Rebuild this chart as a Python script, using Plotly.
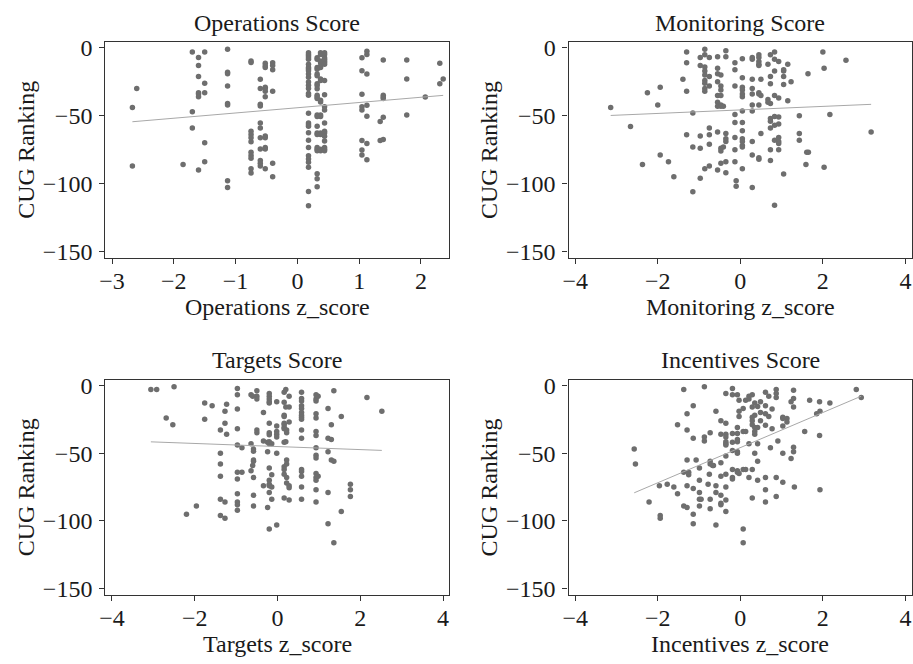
import numpy as np
import plotly.graph_objects as go

FONT = "Liberation Serif, Times New Roman, serif"

# ---------------- data ----------------
ops_x = ([-2.67, -2.67, -2.6, -1.85, -1.7, -1.7, -1.7]
         + [-1.6] * 7 + [-1.5] * 5 + [-1.13] * 8 + [-0.75] * 11 + [-0.6] * 11
         + [-0.52] * 12 + [-0.4] * 6 + [0.18] * 29 + [0.32] * 23 + [0.375] * 16
         + [0.44] * 19 + [1.045] * 8 + [1.125] * 7 + [1.34] * 2 + [1.39] * 6
         + [1.77] * 3 + [2.07, 2.305, 2.305, 2.36])
ops_y = ([-44, -87, -30, -86, -3, -47, -59,
          -7, -13, -21, -33, -34, -36, -90,
          -3, -26, -33, -70, -84,
          -1, -18, -19, -28, -41, -42, -98, -103,
          -9.6, -10.8, -61.4, -63.8, -66.2, -69.1, -77, -79.4, -81.4, -89, -92.2,
          -23, -30, -41.6, -42.8, -55.4, -59, -66.2, -74.6, -83, -85, -87,
          -11.3, -13.2, -14.4, -28.9, -30, -32, -36, -65, -66.2, -73.4, -74.6, -89,
          -11, -13, -16, -32, -85, -95,
          -3.6, -4.8, -6, -7.2, -8.4, -12, -14.4, -15.6, -16.8, -19.2, -21.6, -25.2,
          -27.6, -30, -33.6, -34.8, -48.1, -55.4, -56.6, -57.8, -62.6, -68.1, -73.4,
          -79.5, -81.9, -84.3, -87.9, -105.9, -116.3,
          -7.2, -8.4, -14.5, -15.7, -19.3, -20.5, -26.5, -27.7, -30.1, -34.9, -36.1,
          -37.3, -49.4, -50.6, -57.8, -62.7, -63.9, -73.5, -74.7, -75.9, -92.8, -96.4,
          -102.4,
          -3.6, -4.8, -9.6, -10.8, -13.3, -14.5, -22.9, -24.1, -38.6, -39.8, -49.4,
          -50.6, -62.7, -63.9, -74.7, -75.9,
          -3.6, -4.8, -7.2, -8.4, -9.6, -10.8, -12, -24.1, -34.5, -43.4, -45.8, -55.4,
          -61.4, -62.7, -65.1, -68.7, -73.5, -74.7, -75.9,
          -7.2, -16.9, -34.2, -43.4, -45.8, -68.2, -75.2, -79,
          -2.4, -4.8, -19.3, -42.2, -50.4, -70.4, -82.4,
          -54.2, -68.2,
          -8.9, -34.9, -36.1, -37.3, -51.1, -67.5,
          -8.9, -22.9, -49.4,
          -36.1, -11.3, -26.5, -22.9])

mon_x = [-3.14, -2.66, -2.37, -2.25, -2.0, -1.94, -1.94, -1.74, -1.61, -1.39,
         -1.3, -1.3, -1.3, -1.3, -1.15, -1.15, -1.15,
         -0.97, -0.97, -0.97, -0.97, -0.97,
         -0.86, -0.86, -0.86, -0.86, -0.86, -0.86, -0.86, -0.86, -0.86, -0.86,
         -0.75, -0.75, -0.75, -0.75, -0.75, -0.75, -0.75,
         -0.55, -0.55, -0.55, -0.55, -0.55, -0.55, -0.55, -0.55, -0.55,
         -0.47, -0.47, -0.47, -0.47, -0.47, -0.47, -0.47, -0.47, -0.47,
         -0.41, -0.41, -0.35, -0.35, -0.35, -0.35, -0.35, -0.35, -0.35,
         -0.13, -0.13, -0.13, -0.13, -0.13, -0.13, -0.13, -0.13, -0.1, -0.1,
         0.05, 0.05, 0.05, 0.05, 0.05, 0.05, 0.05, 0.05, 0.05, 0.05, 0.05, 0.05, 0.05, 0.05,
         0.29, 0.29, 0.29, 0.29, 0.29, 0.29, 0.29, 0.29, 0.29, 0.29,
         0.45, 0.45, 0.45, 0.45, 0.45, 0.45, 0.45, 0.45, 0.45, 0.45,
         0.5, 0.5, 0.5, 0.67, 0.67, 0.67,
         0.73, 0.73, 0.73, 0.73, 0.73, 0.73, 0.73, 0.73, 0.73,
         0.83, 0.83, 0.83, 0.83, 0.83, 0.83, 0.83, 0.83,
         0.93, 0.93, 0.93, 0.93, 0.93, 0.93, 0.93, 0.93,
         1.05, 1.05, 1.05, 1.05, 1.05, 1.15, 1.15, 1.23,
         1.43, 1.43, 1.43, 1.59, 1.61, 1.64, 1.65, 2.0, 2.03, 2.03, 2.17, 2.56, 3.17]
mon_y = [-44, -58, -86, -33, -42, -29, -79, -84, -95, -23,
         -3, -11, -32, -64, -48, -73, -106,
         -7, -13, -65, -74, -96,
         -1, -5, -14, -17, -20, -24, -26, -30, -32, -89,
         -7, -21, -28, -59, -64, -71, -87,
         -6.5, -15, -19, -25, -35, -40, -43, -62, -90,
         -20, -28, -31, -35, -42, -43, -74, -76, -85,
         -43, -73, -2, -6.5, -63, -67, -69, -84, -92,
         -11, -16, -28, -49, -55, -66, -75, -84, -98, -102,
         -8, -22, -29, -31, -34, -36, -46.5, -55, -61, -67, -69, -72, -73, -89,
         -7, -8.4, -23, -30, -34, -42, -46.5, -69, -79, -103,
         -5, -7, -10, -12, -13, -33, -34, -42, -81, -82,
         -23, -35, -63, -12, -38, -40,
         -5, -21, -26.5, -41, -52, -54, -59, -75, -83,
         -3, -8.4, -17, -35, -50.6, -57, -68, -116,
         -10, -37, -51, -56, -66, -69, -70.5, -75,
         -16, -17, -21, -27, -93, -12, -39, -25,
         -50, -63, -68, -86, -77, -19, -77, -3, -15, -88, -49, -9, -62]

tar_x = [-3.06, -2.92, -2.69, -2.53, -2.5, -2.2, -1.96, -1.76, -1.76, -1.58,
         -1.38, -1.38, -1.38, -1.38, -1.38, -1.38, -1.27, -1.27, -1.27, -1.27,
         -1.23, -1.23,
         -0.97, -0.97, -0.97, -0.97, -0.97, -0.97, -0.97, -0.97, -0.97, -0.97, -0.97,
         -0.86, -0.86, -0.64, -0.64, -0.64, -0.6, -0.6,
         -0.58, -0.58, -0.58, -0.58, -0.58, -0.58, -0.58,
         -0.5, -0.5, -0.5, -0.5, -0.5, -0.34, -0.34, -0.34, -0.24, -0.24, -0.24,
         -0.2, -0.2, -0.2, -0.2, -0.2, -0.2, -0.2, -0.2, -0.2, -0.2, -0.2, -0.2,
         -0.2, -0.2, -0.2, -0.2,
         -0.14, -0.14, -0.14, -0.14,
         -0.02, -0.02, -0.02, -0.02, -0.02, -0.02, -0.02,
         0.16, 0.16, 0.16, 0.16, 0.16, 0.16, 0.16, 0.16, 0.16, 0.16, 0.16, 0.16, 0.16,
         0.2, 0.2, 0.2, 0.22, 0.22, 0.22, 0.22, 0.22, 0.22,
         0.28, 0.28, 0.28, 0.28, 0.28, 0.28,
         0.58, 0.58, 0.58, 0.58, 0.58, 0.58, 0.58, 0.58, 0.58, 0.58, 0.58, 0.58,
         0.58, 0.58, 0.58, 0.58,
         0.93, 0.93, 0.93, 0.93, 0.93, 0.93, 0.93, 0.93, 0.93, 0.93, 0.93, 0.93,
         0.93, 0.93, 0.93, 0.98, 0.98,
         1.22, 1.22, 1.22, 1.22, 1.22, 1.3, 1.3, 1.3, 1.36, 1.36, 1.36,
         1.54, 1.54, 1.76, 1.76, 1.76, 2.16, 2.52]
tar_y = [-3, -3, -24, -29, -1, -95, -89, -13, -25, -15,
         -33, -50, -58, -67, -84, -96, -19, -28, -86, -98,
         -14, -36,
         -2.4, -7, -17.5, -32, -44, -64, -69, -80, -86, -88, -92,
         -64, -46, -7, -43, -63, -8, -59,
         -47, -48.5, -55, -56, -68, -81, -89,
         -4, -8, -10, -33, -35, -20, -41, -74, -42, -49, -90,
         -6, -8, -10, -12, -13, -28, -35, -36.5, -41.5, -43, -61, -70, -73, -74,
         -79, -106,
         -43, -66, -84, -75,
         -12, -30, -34, -36, -38, -50, -103,
         -5, -12.5, -22, -23, -28, -29, -31, -32, -42, -60, -62, -65.5, -83,
         -3, -16, -41.5, -33, -35, -55, -58, -68, -72,
         -8, -16, -27, -74, -75.5, -84.5,
         -5, -9.6, -11.5, -15, -17, -20, -22, -23.5, -25, -33, -39, -62, -63.5, -67,
         -75, -84,
         -7, -10, -11.5, -21, -24, -34, -37, -46, -51.6, -53.5, -65, -68, -70, -77,
         -86, -8, -67,
         -17, -39, -49, -79, -102, -29, -40, -55, -4, -56, -116,
         -23, -93, -73, -77, -82, -9, -19]

inc_x = [-2.57, -2.54, -2.21, -1.96, -1.94, -1.94, -1.77, -1.61, -1.52, -1.52,
         -1.37, -1.37, -1.37, -1.29, -1.29, -1.29, -1.29, -1.29, -1.25, -1.25,
         -1.14, -1.14, -1.14, -1.14, -1.14, -1.07,
         -0.99, -0.99, -0.99, -0.99, -0.99, -0.95, -0.87, -0.87, -0.87,
         -0.78, -0.75, -0.73, -0.73, -0.73, -0.73, -0.73, -0.67, -0.65,
         -0.59, -0.59, -0.59, -0.59,
         -0.47, -0.47, -0.47, -0.47, -0.47, -0.47, -0.47,
         -0.35, -0.35, -0.35, -0.35, -0.35, -0.35, -0.35, -0.35, -0.35, -0.35,
         -0.35, -0.35,
         -0.19, -0.19, -0.19, -0.19, -0.19, -0.19, -0.19, -0.19,
         -0.07, -0.07, -0.07, -0.07, -0.07, -0.07, -0.07, -0.07, -0.07,
         -0.03, -0.03, -0.03, -0.03,
         0.07, 0.07, 0.07, 0.07, 0.07, 0.13, 0.13, 0.13,
         0.21, 0.21, 0.21, 0.21,
         0.29, 0.29, 0.29, 0.29, 0.29, 0.29, 0.29,
         0.35, 0.35, 0.35, 0.35, 0.35, 0.35,
         0.42, 0.42, 0.42, 0.42, 0.42, 0.49, 0.49, 0.49,
         0.61, 0.61, 0.61, 0.61, 0.61, 0.61, 0.61, 0.69, 0.69, 0.73, 0.77, 0.77,
         0.87, 0.87, 0.87, 0.87, 0.87, 0.91,
         1.03, 1.03, 1.03, 1.03, 1.03, 1.13, 1.13, 1.23, 1.23,
         1.29, 1.29, 1.29, 1.29, 1.29, 1.31,
         1.56, 1.68, 1.85, 1.92, 1.92, 1.93, 1.93, 2.17, 2.81, 2.93]
inc_y = [-47, -58, -86, -74, -96, -98, -73, -75, -29, -80,
         -3, -64, -89, -21, -33, -55, -74, -90, -64, -66,
         -15, -39, -76, -95, -102, -55,
         -61, -70, -79, -84, -89, -84, -1, -38, -41,
         -73, -65.5, -35, -56, -58, -84, -91, -59, -59,
         -19, -74, -79, -103,
         -26, -36, -57, -67, -81, -87, -88,
         -6, -28, -36, -38, -41.5, -43, -44, -52, -65.5, -75, -84.5, -93,
         -2.4, -7, -35.5, -42, -48, -62, -68, -69,
         -7, -31, -35.5, -40, -41.5, -49, -50, -63, -64,
         -11, -19, -23, -65,
         -17, -34, -62, -106, -116, -11, -34, -62,
         -8, -10, -43, -68,
         -7, -16, -23.5, -26, -29, -62, -83,
         -13, -22, -31, -34, -36, -50,
         -15.6, -31, -43, -56, -70, -12, -20, -26,
         -5, -15, -21, -29.5, -68, -77, -86, -8, -23, -46, -17.5, -32,
         -3, -6, -9, -68, -82, -41,
         -23.5, -24.5, -30, -50, -71.5, -24.5, -27, -12, -54,
         -3.6, -9.6, -16, -45.6, -49, -75,
         -34, -11, -21, -12, -37, -19, -77, -13, -3, -9]

titles = ["Operations Score", "Monitoring Score", "Targets Score", "Incentives Score"]
x_titles = ["Operations z_score", "Monitoring z_score", "Targets z_score", "Incentives z_score"]
y_title = "CUG Ranking"
y_ticks = [0, -50, -100, -150]
x_ticks = [[-3, -2, -1, 0, 1, 2], [-4, -2, 0, 2, 4], [-4, -2, 0, 2, 4], [-4, -2, 0, 2, 4]]

# ---------------- layout geometry (pixels) ----------------
W, H = 913, 664
panels = [
    dict(x0=100, x1=446, y0=36, y1=256, xr=[-3.108, 2.455]),
    dict(x0=566.3, x1=912, y0=36, y1=256, xr=[-4.16, 4.16]),
    dict(x0=100, x1=446, y0=380.7, y1=600.7, xr=[-4.16, 4.144]),
    dict(x0=566.3, x1=912, y0=380.7, y1=600.7, xr=[-4.16, 4.16]),
]
yr = [-154.6, 4.2]

series = [(ops_x, ops_y), (mon_x, mon_y), (tar_x, tar_y), (inc_x, inc_y)]

fig = go.Figure()
annotations = []
layout = dict(width=W, height=H, margin=dict(l=0, r=0, t=0, b=0),
              paper_bgcolor="white", plot_bgcolor="white", showlegend=False,
              font=dict(family=FONT, size=24, color="#1a1a1a"))

TXT = dict(family=FONT, size=24, color="#1a1a1a")

for i, (p, (xs, ys)) in enumerate(zip(panels, series)):
    n = i + 1
    xa = "x" if n == 1 else f"x{n}"
    ya = "y" if n == 1 else f"y{n}"
    fig.add_trace(go.Scatter(x=xs, y=ys, mode="markers", xaxis=xa, yaxis=ya,
                             marker=dict(size=5.5, color="#6e6e6e", line=dict(width=0))))
    xa_arr = np.array(xs, dtype=float)
    ya_arr = np.array(ys, dtype=float)
    b, a = np.polyfit(xa_arr, ya_arr, 1)
    lx = np.array([xa_arr.min(), xa_arr.max()])
    fig.add_trace(go.Scatter(x=lx, y=a + b * lx, mode="lines", xaxis=xa, yaxis=ya,
                             line=dict(color="#a8a8a8", width=1)))
    axis_common = dict(showgrid=False, zeroline=False, showline=True, mirror=True,
                       linecolor="#333333", linewidth=1.3, ticks="outside", ticklen=5,
                       tickwidth=1.2, tickcolor="#333333", tickfont=TXT)
    layout["xaxis" if n == 1 else f"xaxis{n}"] = dict(
        domain=[p["x0"] / W, p["x1"] / W], range=p["xr"], anchor=ya,
        tickvals=x_ticks[i], ticklabelstandoff=-4, **axis_common)
    layout["yaxis" if n == 1 else f"yaxis{n}"] = dict(
        domain=[1 - p["y1"] / H, 1 - p["y0"] / H], range=yr, anchor=xa,
        tickvals=y_ticks, ticklabelstandoff=2, **axis_common)
    cx = (p["x0"] + p["x1"]) / 2 / W
    annotations.append(dict(text=titles[i], x=cx, y=1 - (p["y0"] - 20) / H,
                            xref="paper", yref="paper", showarrow=False,
                            xanchor="center", yanchor="middle", font=TXT))
    annotations.append(dict(text=x_titles[i], x=cx, y=1 - (p["y1"] + 50) / H,
                            xref="paper", yref="paper", showarrow=False,
                            xanchor="center", yanchor="middle", font=TXT))
    annotations.append(dict(text=y_title, x=(p["x0"] - 80) / W,
                            y=1 - (p["y0"] + p["y1"]) / 2 / H,
                            xref="paper", yref="paper", showarrow=False, textangle=-90,
                            xanchor="center", yanchor="middle", font=TXT))

layout["annotations"] = annotations
fig.update_layout(**layout)
fig.write_html("out.html", config={"displayModeBar": False},
               post_script="document.body.style.margin='0';document.body.style.overflow='hidden';")
